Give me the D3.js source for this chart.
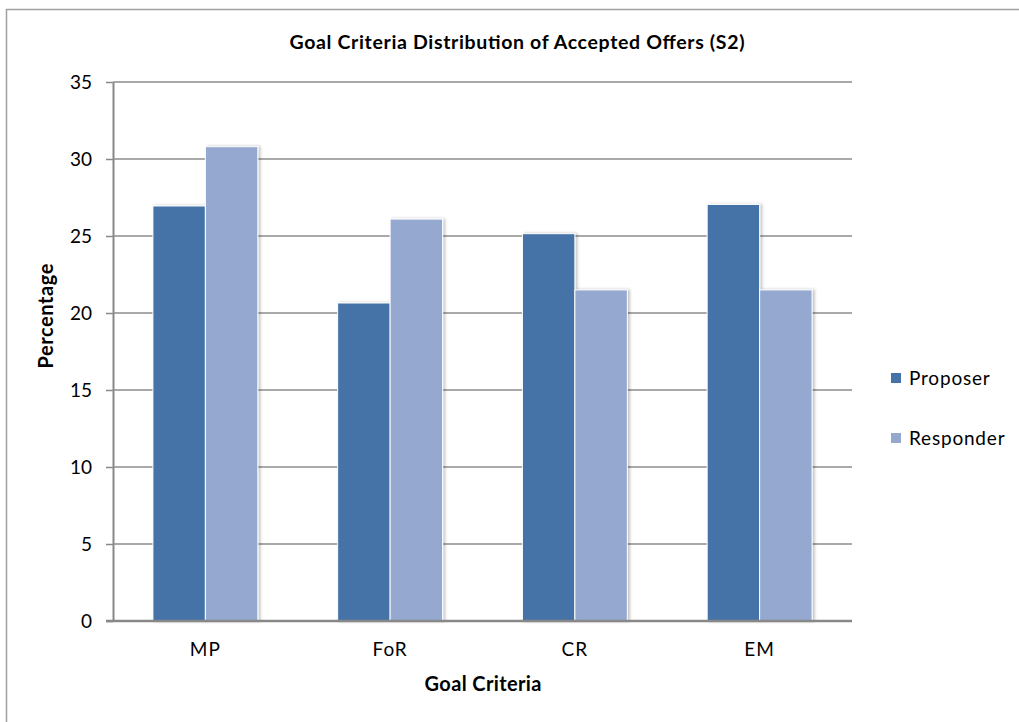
<!DOCTYPE html>
<html>
<head>
<meta charset="utf-8">
<script src="https://cdn.jsdelivr.net/npm/d3@7"></script>
<style>
  html, body { margin: 0; padding: 0; background: #fff; }
  svg { display: block; }
  text { font-family: Lato, "Open Sans", sans-serif; fill: #000; }
</style>
</head>
<body>
<svg id="chart" width="1019" height="722"></svg>
<script>
const categories = ["MP", "FoR", "CR", "EM"];
const seriesNames = ["Proposer", "Responder"];
const proposer = [26.95, 20.65, 25.15, 27.05];
const responder = [30.8, 26.1, 21.5, 21.5];
const yTicks = [0, 5, 10, 15, 20, 25, 30, 35];
const colors = ["#4573A7", "#95A9D0"];

const svg = d3.select("#chart");
const W = 1019, H = 722;
const m = { left: 113, right: 852, top: 82, bottom: 621 };

// frame
svg.append("rect").attr("x", 6.5).attr("y", 9.5).attr("width", W).attr("height", H)
  .attr("fill", "none").attr("stroke", "#a0a0a0").attr("stroke-width", 1.5);

const defs = svg.append("defs");
const f = defs.append("filter").attr("id", "sh").attr("x", "-20%").attr("y", "-5%").attr("width", "150%").attr("height", "110%");
f.append("feGaussianBlur").attr("in", "SourceAlpha").attr("stdDeviation", 1.6).attr("result", "b");
f.append("feOffset").attr("in", "b").attr("dx", 2).attr("dy", 0).attr("result", "o");
f.append("feComponentTransfer").attr("in", "o").attr("result", "oa")
  .append("feFuncA").attr("type", "linear").attr("slope", 0.25);
const mg = f.append("feMerge");
mg.append("feMergeNode").attr("in", "oa");
mg.append("feMergeNode").attr("in", "SourceGraphic");

const x0 = d3.scaleBand().domain(categories).range([m.left, m.right]).paddingInner(0.432).paddingOuter(0.216);
const x1 = d3.scaleBand().domain(seriesNames).range([0, x0.bandwidth()]);
const y = d3.scaleLinear().domain([0, 35]).range([m.bottom, m.top]);

// gridlines + y axis
const yAxis = d3.axisLeft(y).tickValues(yTicks).tickSize(7).tickPadding(14).tickSizeOuter(0);
const gy = svg.append("g").attr("transform", `translate(${m.left},0)`).call(yAxis);
gy.select(".domain").attr("stroke", "#888").attr("stroke-width", 2);
gy.selectAll(".tick line").attr("stroke", "#888").attr("stroke-width", 1.5);
gy.selectAll(".tick text").attr("font-size", 19).attr("fill", "#000").style("font-family", "Lato, sans-serif");

svg.append("g").selectAll("line").data(yTicks.filter(d => d > 0)).join("line")
  .attr("x1", m.left).attr("x2", m.right)
  .attr("y1", d => y(d)).attr("y2", d => y(d))
  .attr("stroke", "#8c8c8c").attr("stroke-width", 1.5);

// bars
const data = categories.map((c, i) => ({ c, vals: [proposer[i], responder[i]] }));
const g = svg.append("g");
data.forEach(d => {
  d.vals.forEach((v, j) => {
    g.append("rect")
      .attr("x", x0(d.c) + x1(seriesNames[j]))
      .attr("y", y(v))
      .attr("width", x1.bandwidth())
      .attr("height", y(0) - y(v))
      .attr("fill", colors[j])
      .attr("stroke", "#fff").attr("stroke-width", 1)
      .attr("filter", "url(#sh)");
  });
});

// x axis
const xAxis = d3.axisBottom(x0).tickSize(0).tickPadding(22);
const gx = svg.append("g").attr("transform", `translate(0,${m.bottom})`).call(xAxis);
gx.select(".domain").attr("stroke", "#888").attr("stroke-width", 2.5).attr("d", `M${m.left - 7},0H${m.right}`);
gx.selectAll(".tick text").attr("font-size", 19).attr("fill", "#000").attr("letter-spacing", 1).style("font-family", "Lato, sans-serif");

// titles
svg.append("text").attr("x", 517).attr("y", 49).attr("text-anchor", "middle")
  .attr("font-size", 19.5).attr("font-weight", "bold")
  .attr("textLength", 455).attr("lengthAdjust", "spacing")
  .text("Goal Criteria Distribution of Accepted Offers (S2)");
svg.append("text").attr("x", 483).attr("y", 691).attr("text-anchor", "middle")
  .attr("font-size", 20).attr("font-weight", "bold")
  .attr("textLength", 117).attr("lengthAdjust", "spacing").text("Goal Criteria");
svg.append("text").attr("transform", "translate(53,316) rotate(-90)").attr("text-anchor", "middle")
  .attr("font-size", 20).attr("font-weight", "bold")
  .attr("textLength", 105).attr("lengthAdjust", "spacing").text("Percentage");

// legend
const lg = svg.append("g").selectAll("g").data(seriesNames).join("g")
  .attr("transform", (d, i) => `translate(891,${373 + i * 60})`);
lg.append("rect").attr("width", 10).attr("height", 10).attr("fill", (d, i) => colors[i]);
lg.append("text").attr("x", 18).attr("y", 12).attr("font-size", 19).attr("letter-spacing", 0.8).text(d => d);
</script>
</body>
</html>
